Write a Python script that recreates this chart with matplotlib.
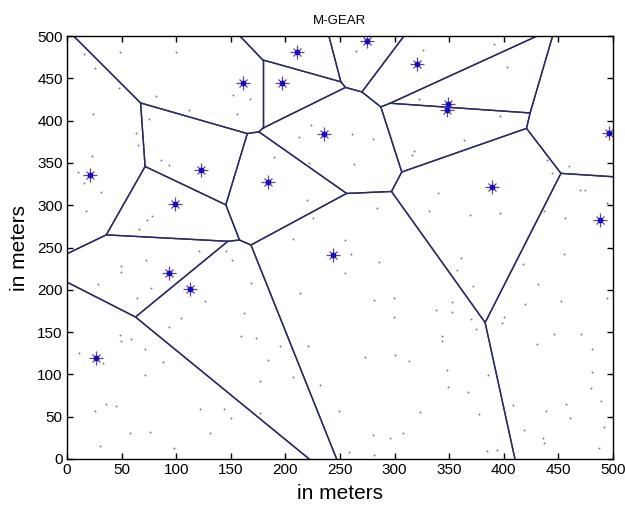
import numpy as np
import matplotlib
matplotlib.use("Agg")
import matplotlib.pyplot as plt

plt.rcParams['font.family'] = ['Liberation Sans', 'DejaVu Sans']

# Cluster heads (x, y) in meters
head_x = [20.8, 26.9, 98.6, 123.0, 93.0, 113.0, 161.2, 197.2, 210.3, 183.8,
          235.6, 243.6, 274.4, 320.2, 348.6, 348.0, 388.9, 496.6, 488.0]
head_y = [336.0, 119.4, 301.8, 341.6, 219.9, 201.0, 444.8, 444.8, 481.0, 327.4,
          384.5, 241.5, 494.0, 467.3, 419.2, 412.5, 321.9, 385.7, 282.9]

# Ordinary sensor nodes (x, y) in meters
node_x = [48.2, 99.8, 15.9, 25.3, 47.3, 81.5, 152.0, 111.4, 156.0, 23.5, 75.0, 63.0,
          64.7, 23.2, 86.4, 93.0, 15.3, 10.4, 30.8, 17.0, 77.8, 73.6, 65.6,
          265.0, 325.7, 168.0, 322.6, 223.7, 212.5, 260.7, 280.0, 189.8, 221.6, 262.8,
          317.5, 316.2, 219.5, 283.6, 331.8, 225.5, 206.7, 254.9,
          391.3, 403.0, 396.8, 363.8, 340.0, 439.6, 460.0, 444.0, 469.8, 474.0, 369.3,
          396.8, 437.0, 456.3, 494.5,
          72.3, 49.7, 49.7, 28.0, 77.0, 64.4, 126.0, 120.8, 145.3, 150.8, 161.8, 104.4,
          93.0, 48.2, 58.6, 49.5, 71.0, 10.7, 33.0, 87.6, 71.1, 159.3, 36.0, 44.9, 25.3,
          122.0, 143.5, 150.2, 57.4, 75.7, 131.0, 29.9, 97.7,
          260.4, 285.7, 254.6, 168.2, 213.4, 281.1, 299.5, 299.5, 173.4, 195.0, 220.4,
          183.8, 273.2, 300.4, 313.5, 177.0, 206.7, 231.7, 248.8, 176.7, 323.5, 280.5,
          296.0, 307.7, 258.2, 281.0,
          454.8, 360.5, 417.3, 357.0, 371.8, 431.6, 494.5, 338.2, 352.6, 352.6, 452.4,
          419.0, 369.7, 400.5, 398.4, 374.2, 343.0, 343.0, 446.2, 470.4, 430.4, 481.0,
          347.7, 385.8, 480.8, 348.9, 367.2, 479.8, 488.7, 456.7, 408.4, 377.6, 438.3,
          460.3, 492.0, 418.8, 435.9, 437.1, 384.3, 393.5, 487.5]
node_y = [481.5, 481.0, 479.0, 461.8, 439.0, 428.7, 430.7, 412.5, 408.0, 408.0, 402.0, 385.7,
          371.0, 358.0, 354.0, 347.5, 326.6, 339.6, 315.6, 293.0, 287.0, 283.0, 272.0,
          482.0, 483.5, 425.0, 425.0, 394.4, 380.6, 384.5, 378.0, 356.6, 350.0, 349.0,
          364.0, 359.0, 305.8, 297.0, 293.0, 285.0, 259.7, 258.9,
          491.0, 463.7, 405.0, 377.0, 314.0, 353.0, 346.0, 337.7, 317.6, 317.6, 288.4,
          291.0, 293.0, 285.0, 303.0,
          234.8, 227.7, 221.0, 206.8, 202.0, 190.3, 187.0, 246.0, 246.0, 234.8, 172.0, 166.7,
          156.4, 147.0, 141.8, 139.9, 130.0, 125.3, 113.5, 115.0, 99.3, 145.0, 65.0, 63.0, 57.0,
          58.7, 58.7, 48.5, 30.7, 32.3, 30.7, 15.8, 13.0,
          242.3, 233.3, 220.3, 208.0, 196.2, 187.5, 190.3, 168.2, 143.4, 134.0, 134.0,
          117.4, 121.0, 122.5, 116.2, 92.6, 97.0, 87.0, 57.0, 54.4, 55.5, 28.8,
          24.4, 30.3, 8.7, 5.0,
          242.7, 238.0, 230.9, 223.0, 204.9, 206.5, 190.3, 176.5, 186.0, 174.0, 187.0,
          182.8, 165.0, 168.2, 160.3, 153.2, 145.4, 139.5, 147.4, 147.4, 135.6, 129.6,
          105.6, 99.7, 103.2, 85.5, 79.2, 84.0, 68.6, 64.6, 63.4, 53.6, 57.0,
          48.5, 38.2, 34.7, 24.8, 18.9, 9.0, 10.3, 13.0]

x_ticks = [0, 50, 100, 150, 200, 250, 300, 350, 400, 450, 500]
y_ticks = [0, 50, 100, 150, 200, 250, 300, 350, 400, 450, 500]


def clip_halfplane(poly, a, b, c):
    """Keep part of polygon where a*x + b*y <= c."""
    out = []
    n = len(poly)
    for k in range(n):
        p = poly[k]
        q = poly[(k + 1) % n]
        fp = a * p[0] + b * p[1] - c
        fq = a * q[0] + b * q[1] - c
        if fp <= 0:
            out.append(p)
        if (fp < 0 < fq) or (fq < 0 < fp):
            t = fp / (fp - fq)
            out.append((p[0] + t * (q[0] - p[0]), p[1] + t * (q[1] - p[1])))
    return out


def voronoi_segments(xs, ys, big=5000.0):
    pts = np.column_stack([xs, ys])
    segs = []
    for i, pi in enumerate(pts):
        poly = [(-big, -big), (big, -big), (big, big), (-big, big)]
        for j, pj in enumerate(pts):
            if i == j:
                continue
            d = pj - pi
            m = (pi + pj) / 2.0
            poly = clip_halfplane(poly, d[0], d[1], d @ m)
            if not poly:
                break
        n = len(poly)
        for k in range(n):
            p, q = poly[k], poly[(k + 1) % n]
            on_box = ((abs(p[0]) > big * 0.999 and np.isclose(p[0], q[0])) or
                      (abs(p[1]) > big * 0.999 and np.isclose(p[1], q[1])))
            if on_box:
                continue
            segs.append((p, q))
    return segs


fig = plt.figure(figsize=(6.25, 5.11), dpi=100)
ax = fig.add_axes([0.1072, 0.1018, 0.8736, 0.8277])

for p, q in voronoi_segments(head_x, head_y):
    ax.plot([p[0], q[0]], [p[1], q[1]], color='#2a2a66', lw=1.0, solid_capstyle='round')

ax.plot(node_x, node_y, linestyle='none', marker='s', markersize=1.2,
        markerfacecolor='#707070', markeredgecolor='none')

# asterisk-style cluster-head markers
ax.plot(head_x, head_y, linestyle='none', marker='+', markersize=10,
        color='#74407f', markeredgewidth=0.9)
ax.plot(head_x, head_y, linestyle='none', marker='x', markersize=6,
        color='#74407f', markeredgewidth=0.9)
ax.plot(head_x, head_y, linestyle='none', marker='o', markersize=4.2,
        markerfacecolor='#1010c8', markeredgecolor='none')

ax.set_xlim(0, 500)
ax.set_ylim(0, 500)
ax.set_xticks(x_ticks)
ax.set_yticks(y_ticks)
ax.tick_params(direction='in', top=True, right=True, length=4, width=1.0,
               labelsize=11, pad=3)
for s in ax.spines.values():
    s.set_linewidth(1.0)
ax.set_title('M-GEAR', fontsize=9.5, pad=9)
ax.set_xlabel('in meters', fontsize=15, labelpad=5)
ax.set_ylabel('in meters', fontsize=15, labelpad=6)

fig.savefig('out.png', dpi=100)
